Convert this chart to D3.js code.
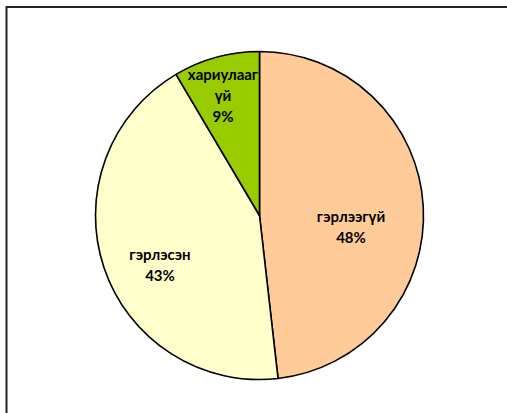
<!DOCTYPE html>
<html>
<head>
<meta charset="utf-8">
<script src="https://cdn.jsdelivr.net/npm/d3@7"></script>
<style>
  body { margin: 0; background: #fff; }
  svg { display: block; }
</style>
</head>
<body>
<svg width="507" height="413"></svg>
<script>
// Pie chart data
var categories = ["гэрлээгүй", "гэрлэсэн", "хариулаагүй"];
var values = [48.2, 43.3, 8.5];
var percentLabels = ["48%", "43%", "9%"];
// label lines as they wrap in the picture
var labelLines = [["гэрлээгүй"], ["гэрлэсэн"], ["хариулааг", "үй"]];
var colors = ["#ffcc99", "#ffffcc", "#99cc00"];

var svg = d3.select("svg"),
    cx = 259.5,
    cy = 215.5,
    radius = 164;

// chart area frame (runs off the right and bottom)
svg.append("rect")
    .attr("x", 6.5)
    .attr("y", 7)
    .attr("width", 520)
    .attr("height", 430)
    .attr("fill", "none")
    .attr("stroke", "#222")
    .attr("stroke-width", 2);

var data = categories.map(function(c, i) {
  return {name: c, value: values[i], pct: percentLabels[i], lines: labelLines[i], color: colors[i]};
});

var pie = d3.pie().sort(null).value(function(d) { return d.value; });
var arc = d3.arc().innerRadius(0).outerRadius(radius);

var g = svg.append("g")
    .attr("transform", "translate(" + cx + "," + cy + ")");

var arcs = pie(data);

g.selectAll(".slice")
    .data(arcs)
    .enter()
    .append("path")
      .attr("class", "slice")
      .attr("d", arc)
      .attr("fill", function(d) { return d.data.color; })
      .attr("stroke", "#000")
      .attr("stroke-width", 1.6)
      .attr("stroke-linejoin", "round");

// label anchor (first baseline) relative to the pie centre
var labelPos = [[91.5, 6.5], [-99.5, 44.5], [-36.5, -135.5]];
var lineH = 21;

arcs.forEach(function(d, i) {
  var x = labelPos[i][0],
      y = labelPos[i][1];
  var lines = d.data.lines.concat([d.data.pct]);
  var t = g.append("text")
      .attr("text-anchor", "middle")
      .attr("font-family", "Lato, sans-serif")
      .attr("font-weight", "bold")
      .attr("font-size", 15)
      .attr("fill", "#000");
  lines.forEach(function(l, j) {
    t.append("tspan")
      .attr("x", x)
      .attr("y", y + j * lineH)
      .text(l);
  });
});
</script>
</body>
</html>
